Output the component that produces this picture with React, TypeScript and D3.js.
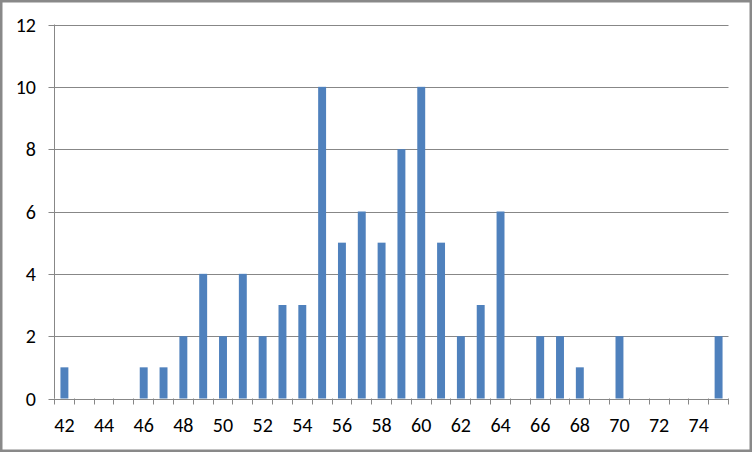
import React from "react";
import * as d3 from "d3";

const categories = [42,43,44,45,46,47,48,49,50,51,52,53,54,55,56,57,58,59,60,61,62,63,64,65,66,67,68,69,70,71,72,73,74,75];
const values = [1,0,0,0,1,1,2,4,2,4,2,3,3,10,5,6,5,8,10,5,2,3,6,0,2,2,1,0,2,0,0,0,0,2];
const yTicks = [0,2,4,6,8,10,12];
const xLabels = [42,44,46,48,50,52,54,56,58,60,62,64,66,68,70,72,74];

export default function App() {
  const W = 752, H = 452;
  const left = 54.5, right = 728.5, top = 24.5, bottom = 398.5;
  const x = d3.scaleBand<number>().domain(categories).range([left, right]).paddingInner(0).paddingOuter(0);
  const y = d3.scaleLinear().domain([0, 12]).range([bottom, top]);
  const bw = x.bandwidth() * 0.4;
  const font = "Carlito, Calibri, Lato, 'Open Sans', sans-serif";
  const gray = "#878787";
  return (
    <svg width={W} height={H} style={{ position: "absolute", left: 0, top: 0 }} fontFamily={font}>
      <rect x={0} y={0} width={W} height={H} fill="#fff" />
      <rect x={1.25} y={1.25} width={W - 2.5} height={H - 2.5} fill="none" stroke="#898989" strokeWidth={2.5} />
      {yTicks.map(t => (
        <g key={t}>
          <line x1={left - 6} x2={right} y1={Math.round(y(t)) + 0.5} y2={Math.round(y(t)) + 0.5} stroke={gray} strokeWidth={1} />
          <text x={36} y={y(t)} dy="0.35em" textAnchor="end" fontSize={20} fill="#000">{t}</text>
        </g>
      ))}
      <line x1={left} x2={left} y1={top} y2={bottom} stroke={gray} />
      {categories.map((c, i) => (
        <rect key={c} x={(x(c) as number) + (x.bandwidth() - bw) / 2} y={y(values[i])} width={bw} height={y(0) - y(values[i])} fill="#4F81BD" />
      ))}
      {d3.range(categories.length + 1).map(i => {
        const xx = Math.round(left + i * x.step() - 0.5) + 0.5;
        return <line key={i} x1={xx} x2={xx} y1={bottom} y2={bottom + 6} stroke={gray} />;
      })}
      {xLabels.map(l => (
        <text key={l} x={(x(l) as number) + x.bandwidth() / 2} y={425} dy="0.35em" textAnchor="middle" fontSize={20} fill="#000">{l}</text>
      ))}
    </svg>
  );
}
